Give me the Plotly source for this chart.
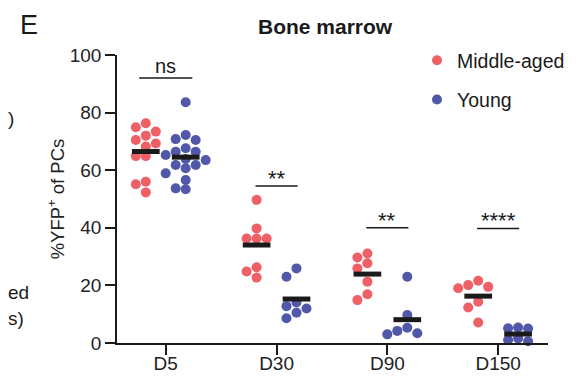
import numpy as np
import plotly.graph_objects as go

categories = ["D5", "D30", "D90", "D150"]
groups = ["Middle-aged", "Young"]

middle_aged = [
    [76.3, 73.4, 74.9, 70.5, 72.0, 69.3, 68.2, 64.9, 64.9, 56.0, 55.1, 52.3],
    [49.7, 39.8, 36.3, 36.3, 36.3, 26.3, 24.8, 22.7],
    [31.1, 29.7, 27.7, 25.9, 21.3, 16.9, 14.9],
    [21.6, 19.0, 19.5, 20.1, 14.3, 12.3, 7.1],
]
young = [
    [83.6, 72.2, 70.8, 70.5, 67.6, 66.4, 66.4, 65.3, 63.5, 63.9, 61.8, 60.7, 61.8, 58.9, 56.6, 53.4, 53.7],
    [25.9, 23.0, 14.1, 12.8, 12.0, 10.5, 8.6],
    [23.0, 9.7, 5.3, 3.0, 3.4, 4.2],
    [5.4, 5.1, 5.0, 1.6, 1.0, 0.6],
]
sig_labels = ["ns", "**", "**", "****"]
sig_heights = [92, 54.5, 40.0, 39.8]

colors = {"Middle-aged": "#EF5F66", "Young": "#5158AA"}
FONT = "Arial, Liberation Sans, sans-serif"

# The page body has an 8px margin; work in page pixels and convert.
PAGE = 8
W, H = 576 - PAGE, 377 - PAGE
X_RANGE = [-0.44, 3.45]
Y_RANGE = [0, 100]
# plot area in page pixels: x 117..548, y 55..343
L, R, T, B = 117 - PAGE, 576 - 548, 55 - PAGE, 377 - 343
px_x = (W - L - R) / (X_RANGE[1] - X_RANGE[0])
px_y = (H - T - B) / (Y_RANGE[1] - Y_RANGE[0])
DOT = 10.0
OFFSET = 0.18


def beeswarm(vals):
    order = np.argsort(-np.array(vals))
    placed = []
    xs = [0.0] * len(vals)
    cands = [0, -1, 1, -2, 2, -3, 3]
    for i in order:
        yp = vals[i] * px_y
        for c in cands:
            xp = c * DOT
            if all((xp - a) ** 2 + (yp - b) ** 2 >= (DOT * 0.88) ** 2 for a, b in placed):
                break
        placed.append((xp, yp))
        xs[i] = xp / px_x
    return xs


fig = go.Figure()
for gi, (gname, data) in enumerate(zip(groups, [middle_aged, young])):
    off = -OFFSET if gi == 0 else OFFSET
    xs_all, ys_all = [], []
    for ci, vals in enumerate(data):
        jit = beeswarm(vals)
        xs_all += [ci + off + j for j in jit]
        ys_all += vals
    fig.add_trace(go.Scatter(
        x=xs_all, y=ys_all, mode="markers", name=gname,
        marker=dict(size=DOT, color=colors[gname], line=dict(width=0)),
        cliponaxis=False, legendgroup=gname,
    ))

# mean lines
for gi, data in enumerate([middle_aged, young]):
    off = -OFFSET if gi == 0 else OFFSET
    for ci, vals in enumerate(data):
        m = float(np.mean(vals))
        fig.add_trace(go.Scatter(
            x=[ci + off - 0.125, ci + off + 0.125], y=[m, m], mode="lines",
            line=dict(color="#1a1a1a", width=5), showlegend=False,
            hoverinfo="skip", cliponaxis=False,
        ))

# significance bars
for ci, (lab, h) in enumerate(zip(sig_labels, sig_heights)):
    hw = 0.24 if ci == 0 else 0.19
    fig.add_trace(go.Scatter(
        x=[ci - hw, ci + hw], y=[h, h], mode="lines",
        line=dict(color="#1a1a1a", width=1.5), showlegend=False, hoverinfo="skip",
        cliponaxis=False,
    ))
    fig.add_annotation(x=ci, y=h, text=lab, showarrow=False, yanchor="bottom",
                       yshift=-1 if lab == "ns" else -7,
                       font=dict(family=FONT, size=20 if lab == "ns" else 22, color="#1a1a1a"))


def paper_xy(px, py):
    # page pixels -> paper coords
    fx, fy = px - PAGE, py - PAGE
    return (fx - L) / (W - L - R), 1 - (fy - T) / (H - T - B)


tx, ty = paper_xy(325, 26)
fig.add_annotation(x=tx, y=ty, xref="paper", yref="paper", text="<b>Bone marrow</b>",
                   showarrow=False, xanchor="center", yanchor="middle",
                   font=dict(family=FONT, size=21, color="#1a1a1a"))

fig.update_layout(
    width=W, height=H,
    margin=dict(l=L, r=R, t=T, b=B, autoexpand=False),
    paper_bgcolor="white", plot_bgcolor="white",
    font=dict(family=FONT, size=19, color="#222222"),
    showlegend=True,
    legend=dict(xref="container", yref="container", x=(417 - PAGE) / W, y=1 - (41 - PAGE) / H,
                xanchor="left", yanchor="top",
                font=dict(family=FONT, size=19.5, color="#1a1a1a"),
                tracegroupgap=11, bgcolor="rgba(0,0,0,0)", itemclick=False),
    xaxis=dict(range=X_RANGE, tickmode="array", tickvals=list(range(len(categories))),
               ticktext=categories, showgrid=False, zeroline=False, automargin=False,
               showline=True, linecolor="#1a1a1a", linewidth=1.5, ticklabelstandoff=-8,
               ticks="outside", ticklen=10, tickwidth=1.5, tickcolor="#1a1a1a"),
    yaxis=dict(range=Y_RANGE, tickvals=[0, 20, 40, 60, 80, 100], showgrid=False,
               zeroline=False, showline=True, linecolor="#1a1a1a", linewidth=1.5,
               ticks="outside", ticklen=10, tickwidth=1.5, tickcolor="#1a1a1a",
               automargin=False,
               title=dict(text="%YFP<sup>+</sup> of PCs", standoff=0,
                          font=dict(family=FONT, size=18.5, color="#222222"))),
)

# panel letter and clipped neighbouring-panel text (page pixel positions)
for txt, px, py, size in [("E", 18, 25, 27), (")", 6, 118, 19), ("ed", 6, 292, 19), ("s)", 6, 318, 19)]:
    x, y = paper_xy(px, py)
    fig.add_annotation(x=x, y=y, xref="paper", yref="paper", text=txt, showarrow=False,
                       xanchor="left", yanchor="middle",
                       font=dict(family=FONT, size=size, color="#1a1a1a"))

fig.write_html("out.html")
